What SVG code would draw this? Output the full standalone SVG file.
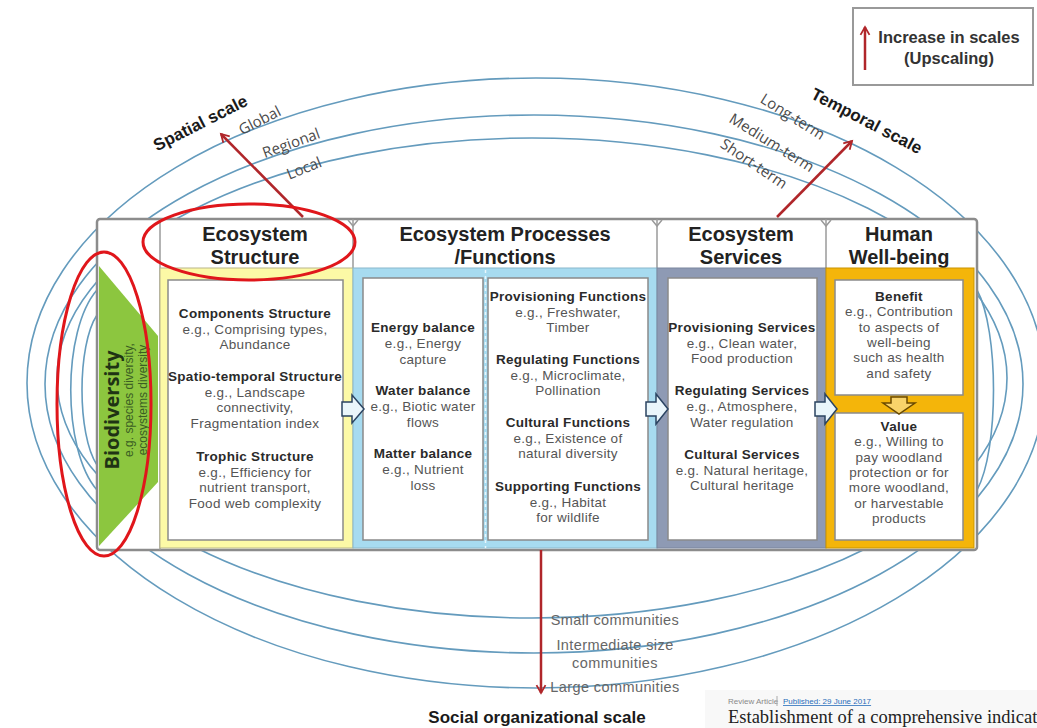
<svg xmlns="http://www.w3.org/2000/svg" width="1037" height="728" viewBox="0 0 1037 728">
<defs>
<style>
.ell{fill:none;stroke:#649bbd;stroke-width:1.6}
.hdr{font-family:"Liberation Sans",Arial,sans-serif;font-weight:700;font-size:20px;fill:#222;text-anchor:middle}
.t{font-family:"Liberation Sans",Arial,sans-serif;text-anchor:middle;letter-spacing:0.3px}
.b{font-weight:700;font-size:13.5px;fill:#2a2a2a}
.r{font-weight:400;font-size:13.5px;fill:#555}
.scl{font-family:"Liberation Sans",Arial,sans-serif;font-weight:700;font-size:17px;fill:#1a1a1a;text-anchor:middle}
.lvl{font-family:"Open Sans","Noto Sans",sans-serif;font-size:15px;fill:#4a4a4a;text-anchor:middle}
.com{font-family:"Liberation Sans",Arial,sans-serif;font-size:14.5px;letter-spacing:0.4px;fill:#666;text-anchor:middle}
.inner{fill:#fff;stroke:#8a8a8a;stroke-width:1.5}
.red{fill:none;stroke:#e0161b;stroke-width:3}
.arr{stroke:#b0262a;stroke-width:2.5;fill:none}
.sep{stroke:#9a9a9a;stroke-width:1.5;fill:none}
.blk{stroke:#2b4462;stroke-width:1.5;fill:#eaf6fb}
.leg{font-family:"Liberation Sans",Arial,sans-serif;font-weight:700;font-size:16.5px;fill:#333;text-anchor:middle}
.bio{font-family:"Liberation Sans",Arial,sans-serif;font-size:12px;fill:#3b5e23;text-anchor:middle}
</style>
<marker id="ah" viewBox="0 0 10 10" refX="8" refY="5" markerWidth="4.5" markerHeight="4.5" orient="auto" markerUnits="strokeWidth">
<path d="M1,1 L8,5 L1,9" fill="none" stroke="#b0262a" stroke-width="1.6"/>
</marker>
</defs>
<rect x="0" y="0" width="1037" height="728" fill="#fff"/>

<g id="scale-ellipses">
<ellipse class="ell" cx="536" cy="383" rx="509" ry="305"/>
<ellipse class="ell" cx="534" cy="384" rx="489" ry="269"/>
<ellipse class="ell" cx="532" cy="378" rx="475" ry="240"/>
<path class="ell" d="M97,290 C62,330 62,450 97,490"/>
<path class="ell" d="M97,315 C77,345 77,435 97,465"/>
<path class="ell" d="M977,290 C999,330 999,450 977,490"/>
</g>

<g id="frame">
<rect x="97" y="219" width="880" height="331" fill="#fff" stroke="#8c8c8c" stroke-width="2.5" rx="3"/>
<line class="sep" x1="160" y1="219" x2="160" y2="550"/>
<line class="sep" x1="353" y1="219" x2="353" y2="268"/>
<line class="sep" x1="657" y1="219" x2="657" y2="268"/>
<line class="sep" x1="826" y1="219" x2="826" y2="268"/>
<path class="sep" d="M348,220 L353,226 L358,220"/>
<path class="sep" d="M652,220 L657,226 L662,220"/>
<path class="sep" d="M821,220 L826,226 L831,220"/>
</g>

<g id="biodiversity">
<polygon points="99,266 158,336 158,482 99,546" fill="#8cc63f"/>
<text transform="translate(119,410) rotate(-90)" font-family="Open Sans, Noto Sans, sans-serif" font-weight="700" font-size="20" fill="#1f3314" text-anchor="middle">Biodiversity</text>
<text class="bio" transform="translate(133,400) rotate(-90)">e.g. species diversity,</text>
<text class="bio" transform="translate(147,400) rotate(-90)">ecosystems diversity</text>
</g>

<g id="ecosystem-structure">
<text class="hdr" x="255" y="241">Ecosystem</text>
<text class="hdr" x="255" y="264">Structure</text>
<rect x="160" y="268" width="193" height="280" fill="#fcf9a6" stroke="#b9b68a" stroke-width="1"/>
<rect class="inner" x="168" y="280" width="175" height="260"/>
<text class="t"><tspan class="b" x="255" y="318">Components Structure</tspan><tspan class="r" x="255" y="333.5">e.g., Comprising types,</tspan><tspan class="r" x="255" y="349">Abundance</tspan></text>
<text class="t"><tspan class="b" x="255" y="381">Spatio-temporal Structure</tspan><tspan class="r" x="255" y="396.5">e.g., Landscape</tspan><tspan class="r" x="255" y="412">connectivity,</tspan><tspan class="r" x="255" y="427.5">Fragmentation index</tspan></text>
<text class="t"><tspan class="b" x="255" y="461">Trophic Structure</tspan><tspan class="r" x="255" y="476.5">e.g., Efficiency for</tspan><tspan class="r" x="255" y="492">nutrient transport,</tspan><tspan class="r" x="255" y="507.5">Food web complexity</tspan></text>
</g>

<g id="ecosystem-processes">
<text class="hdr" x="505" y="241">Ecosystem Processes</text>
<text class="hdr" x="505" y="264">/Functions</text>
<rect x="353" y="268" width="304" height="280" fill="#a7dbf0" stroke="#8ab8cc" stroke-width="1"/>
<rect class="inner" x="363" y="278" width="120" height="262"/>
<rect class="inner" x="488" y="278" width="160" height="262"/>
<line x1="485.5" y1="270" x2="485.5" y2="548" stroke="#e8f6fc" stroke-width="1.5" stroke-dasharray="3,3"/>
<text class="t"><tspan class="b" x="423" y="332">Energy balance</tspan><tspan class="r" x="423" y="348">e.g., Energy</tspan><tspan class="r" x="423" y="364">capture</tspan></text>
<text class="t"><tspan class="b" x="423" y="395">Water balance</tspan><tspan class="r" x="423" y="411">e.g., Biotic water</tspan><tspan class="r" x="423" y="427">flows</tspan></text>
<text class="t"><tspan class="b" x="423" y="458">Matter balance</tspan><tspan class="r" x="423" y="474">e.g., Nutrient</tspan><tspan class="r" x="423" y="490">loss</tspan></text>
<text class="t"><tspan class="b" x="568" y="301">Provisioning Functions</tspan><tspan class="r" x="568" y="316.5">e.g., Freshwater,</tspan><tspan class="r" x="568" y="332">Timber</tspan></text>
<text class="t"><tspan class="b" x="568" y="364">Regulating Functions</tspan><tspan class="r" x="568" y="379.5">e.g., Microclimate,</tspan><tspan class="r" x="568" y="395">Pollination</tspan></text>
<text class="t"><tspan class="b" x="568" y="427">Cultural Functions</tspan><tspan class="r" x="568" y="442.5">e.g., Existence of</tspan><tspan class="r" x="568" y="458">natural diversity</tspan></text>
<text class="t"><tspan class="b" x="568" y="491">Supporting Functions</tspan><tspan class="r" x="568" y="506.5">e.g., Habitat</tspan><tspan class="r" x="568" y="522">for wildlife</tspan></text>
</g>

<g id="ecosystem-services">
<text class="hdr" x="741" y="241">Ecosystem</text>
<text class="hdr" x="741" y="264">Services</text>
<rect x="657" y="268" width="169" height="280" fill="#8e9ab4" stroke="#7a869e" stroke-width="1"/>
<rect class="inner" x="668" y="278" width="149" height="262"/>
<text class="t"><tspan class="b" x="742" y="332">Provisioning Services</tspan><tspan class="r" x="742" y="347.5">e.g., Clean water,</tspan><tspan class="r" x="742" y="363">Food production</tspan></text>
<text class="t"><tspan class="b" x="742" y="395">Regulating Services</tspan><tspan class="r" x="742" y="411">e.g., Atmosphere,</tspan><tspan class="r" x="742" y="427">Water regulation</tspan></text>
<text class="t"><tspan class="b" x="742" y="459">Cultural Services</tspan><tspan class="r" x="742" y="474.5">e.g. Natural heritage,</tspan><tspan class="r" x="742" y="490">Cultural heritage</tspan></text>
</g>

<g id="human-well-being">
<text class="hdr" x="899" y="241">Human</text>
<text class="hdr" x="899" y="264">Well-being</text>
<rect x="826" y="268" width="148" height="280" fill="#f4b50a" stroke="#c99400" stroke-width="1"/>
<rect class="inner" x="835" y="280" width="128" height="115"/>
<rect class="inner" x="835" y="413" width="128" height="127"/>
<text class="t"><tspan class="b" x="899" y="301">Benefit</tspan><tspan class="r" x="899" y="316.3">e.g., Contribution</tspan><tspan class="r" x="899" y="331.6">to aspects of</tspan><tspan class="r" x="899" y="346.9">well-being</tspan><tspan class="r" x="899" y="362.2">such as health</tspan><tspan class="r" x="899" y="377.5">and safety</tspan></text>
<text class="t"><tspan class="b" x="899" y="431">Value</tspan><tspan class="r" x="899" y="446.3">e.g., Willing to</tspan><tspan class="r" x="899" y="461.6">pay woodland</tspan><tspan class="r" x="899" y="476.9">protection or for</tspan><tspan class="r" x="899" y="492.2">more woodland,</tspan><tspan class="r" x="899" y="507.5">or harvestable</tspan><tspan class="r" x="899" y="522.8">products</tspan></text>
</g>

<g id="connectors">
<polygon class="blk" points="342,402 352,402 352,395 364,409 352,423 352,416 342,416"/>
<polygon class="blk" points="646,402 656,402 656,394 668,409 656,424 656,416 646,416"/>
<polygon class="blk" points="815,402 825,402 825,394 837,409 825,424 825,416 815,416"/>
<polygon points="891,397 907,397 907,403 915,403 899,414 883,403 891,403" fill="#f8d36a" stroke="#6a4a00" stroke-width="1.5"/>
<line class="arr" x1="303" y1="217" x2="221" y2="134" marker-end="url(#ah)"/>
<line class="arr" x1="777" y1="217" x2="852" y2="141" marker-end="url(#ah)"/>
<line class="arr" x1="541" y1="550" x2="541" y2="693" marker-end="url(#ah)"/>
</g>

<g id="spatial-scale">
<text class="scl" transform="translate(203,128) rotate(-27)">Spatial scale</text>
<text class="lvl" transform="translate(262,125) rotate(-27)">Global</text>
<text class="lvl" transform="translate(293,148) rotate(-20)">Regional</text>
<text class="lvl" transform="translate(306,173) rotate(-22)">Local</text>
</g>

<g id="temporal-scale">
<text class="scl" transform="translate(864,126) rotate(27.5)">Temporal scale</text>
<text class="lvl" transform="translate(790,121) rotate(32)">Long-term</text>
<text class="lvl" transform="translate(769,147) rotate(32)">Medium-term</text>
<text class="lvl" transform="translate(751,168) rotate(34)">Short-term</text>
</g>

<g id="social-scale">
<text class="com" x="615" y="625">Small communities</text>
<text class="com" x="615" y="650">Intermediate  size</text>
<text class="com" x="615" y="668">communities</text>
<text class="com" x="615" y="692">Large communities</text>
<text font-family="Liberation Sans, Arial, sans-serif" font-weight="700" font-size="17" fill="#1a1a1a" text-anchor="middle" x="537" y="723">Social organizational scale</text>
</g>

<g id="legend">
<rect x="853" y="8" width="180" height="77" fill="#fff" stroke="#999" stroke-width="2"/>
<line class="arr" x1="865" y1="70" x2="865" y2="27" marker-end="url(#ah)"/>
<text class="leg" x="949" y="43">Increase in scales</text>
<text class="leg" x="949" y="64">(Upscaling)</text>
</g>

<g id="annotations">
<ellipse class="red" cx="249" cy="242" rx="106" ry="38"/>
<ellipse class="red" cx="104" cy="404" rx="47" ry="152"/>
</g>

<g id="article-caption">
<rect x="705" y="690" width="332" height="38" fill="#f8f8f8"/>
<text x="728" y="704" font-family="Liberation Sans, Arial, sans-serif" font-size="8" fill="#888">Review Article</text>
<line x1="777" y1="696" x2="777" y2="706" stroke="#aaa" stroke-width="1"/>
<text x="783" y="704" font-family="Liberation Sans, Arial, sans-serif" font-size="8" fill="#2a6ebb" text-decoration="underline">Published: 29 June 2017</text>
<text x="728" y="723" font-family="Liberation Serif, serif" font-size="18.5" fill="#222">Establishment of a comprehensive indicat</text>
</g>
</svg>
